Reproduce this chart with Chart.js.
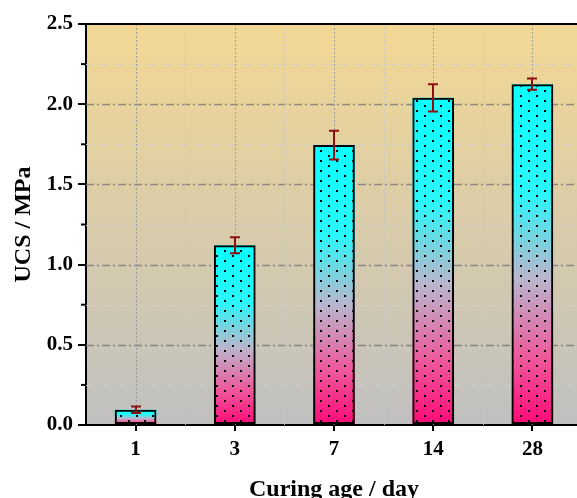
<!DOCTYPE html>
<html>
<head>
<meta charset="utf-8">
<script src="https://cdn.jsdelivr.net/npm/chart.js@4"></script>
<style>
    html, body { margin: 0; padding: 0; overflow: hidden; background: #fff; }
    #wrap { position: relative; width: 584px; height: 510px; }
</style>
</head>
<body>
<div id="wrap"><canvas id="ucsChart"></canvas></div>
<script>
const curingAges = ['1', '3', '7', '14', '28'];
const ucsMean = [0.095, 1.12, 1.745, 2.04, 2.125];
const ucsError = [0.02, 0.05, 0.09, 0.085, 0.035];
const yMajorTicks = [0, 0.5, 1.0, 1.5, 2.0, 2.5];

const serif = 'Liberation Serif';

function isMajor(value) {
    return yMajorTicks.some(t => Math.abs(t - value) < 1e-6);
}

function makeDotPattern() {
    const c = document.createElement('canvas');
    c.width = 16;
    c.height = 10;
    const g = c.getContext('2d');
    g.fillStyle = '#000';
    g.fillRect(0, 0, 2, 2);
    g.fillRect(8, 5, 2, 2);
    return g.createPattern(c, 'repeat');
}

function barGradient(context) {
    const chart = context.chart;
    if (!chart.chartArea) return '#00ffff';
    const y = chart.scales.y;
    const top = y.getPixelForValue(ucsMean[context.dataIndex]);
    const bottom = y.getPixelForValue(0);
    const g = chart.ctx.createLinearGradient(0, top, 0, bottom);
    g.addColorStop(0, '#0affff');
    g.addColorStop(0.32, '#2af6f8');
    g.addColorStop(0.57, '#b9b6cc');
    g.addColorStop(0.8, '#ee5a9c');
    g.addColorStop(1, '#ff0a78');
    return g;
}

const backgroundPlugin = {
    id: 'plotBackground',
    beforeDraw(chart) {
        const { ctx, chartArea: a } = chart;
        const g = ctx.createLinearGradient(0, a.top, 0, a.bottom);
        g.addColorStop(0, '#f3d894');
        g.addColorStop(1, '#c0c0c0');
        ctx.save();
        ctx.fillStyle = g;
        ctx.fillRect(a.left, a.top, a.right - a.left, a.bottom - a.top);
        ctx.restore();
    }
};

const gridPlugin = {
    id: 'customGrid',
    beforeDatasetsDraw(chart) {
        const { ctx, chartArea: a, scales } = chart;
        ctx.save();
        // horizontal dash-dot lines
        scales.y.ticks.forEach(t => {
            if (t.value <= 0 || t.value >= 2.5) return;
            const py = Math.round(scales.y.getPixelForValue(t.value)) + 0.5;
            const major = isMajor(t.value);
            ctx.strokeStyle = major ? 'rgba(125,125,125,0.85)' : 'rgba(205,205,205,0.9)';
            ctx.lineWidth = major ? 1.3 : 1;
            ctx.setLineDash([8, 3, 2, 3]);
            ctx.beginPath();
            ctx.moveTo(a.left, py);
            ctx.lineTo(a.right, py);
            ctx.stroke();
        });
        // vertical dotted lines at categories and between them
        ctx.setLineDash([2, 2]);
        ctx.lineWidth = 1;
        curingAges.forEach((c, i) => {
            const pc = Math.round(scales.x.getPixelForValue(i)) + 0.5;
            ctx.strokeStyle = 'rgba(150,150,150,0.9)';
            ctx.beginPath();
            ctx.moveTo(pc, a.top);
            ctx.lineTo(pc, a.bottom);
            ctx.stroke();
            const pb = Math.round(scales.x.getPixelForValue(i + 0.5)) + 0.5;
            ctx.strokeStyle = 'rgba(200,200,200,0.9)';
            ctx.beginPath();
            ctx.moveTo(pb, a.top);
            ctx.lineTo(pb, a.bottom);
            ctx.stroke();
        });
        ctx.restore();
    },
    afterDatasetsDraw(chart) {
        const { ctx, chartArea: a, scales } = chart;
        const meta = chart.getDatasetMeta(0);
        ctx.save();
        // error bars
        ctx.strokeStyle = '#8e0f0f';
        ctx.lineWidth = 2;
        meta.data.forEach((bar, i) => {
            const px = Math.round(bar.x);
            const hi = scales.y.getPixelForValue(ucsMean[i] + ucsError[i]);
            const lo = scales.y.getPixelForValue(ucsMean[i] - ucsError[i]);
            ctx.beginPath();
            ctx.moveTo(px, hi);
            ctx.lineTo(px, lo);
            ctx.moveTo(px - 5, hi);
            ctx.lineTo(px + 5, hi);
            ctx.moveTo(px - 5, lo);
            ctx.lineTo(px + 5, lo);
            ctx.stroke();
        });
        // top frame line
        ctx.strokeStyle = '#000';
        ctx.lineWidth = 2;
        ctx.beginPath();
        ctx.moveTo(a.left - 1, a.top);
        ctx.lineTo(a.right, a.top);
        ctx.stroke();
        // minor ticks on y
        scales.y.ticks.forEach(t => {
            if (isMajor(t.value)) return;
            const py = scales.y.getPixelForValue(t.value);
            ctx.beginPath();
            ctx.moveTo(a.left - 5, py);
            ctx.lineTo(a.left, py);
            ctx.stroke();
        });
        ctx.restore();
    }
};

Chart.defaults.color = '#000';
Chart.defaults.font.family = serif;

const ctx = document.getElementById('ucsChart').getContext('2d');
new Chart(ctx, {
    type: 'bar',
    data: {
        labels: curingAges,
        datasets: [{
            label: 'UCS dots',
            data: ucsMean,
            backgroundColor: makeDotPattern(),
            borderColor: '#000',
            borderWidth: 2,
            borderSkipped: false,
            grouped: false,
            order: 1,
            barPercentage: 0.42,
            categoryPercentage: 1.0
        }, {
            label: 'UCS',
            data: ucsMean,
            backgroundColor: barGradient,
            borderWidth: 0,
            grouped: false,
            order: 2,
            barPercentage: 0.42,
            categoryPercentage: 1.0
        }]
    },
    options: {
        responsive: true,
        maintainAspectRatio: false,
        animation: false,
        devicePixelRatio: 1,
        layout: {
            padding: { top: 24, right: 2, left: 0, bottom: 0 }
        },
        plugins: {
            legend: { display: false },
            tooltip: { enabled: false }
        },
        scales: {
            x: {
                offset: true,
                grid: {
                    offset: false,
                    drawOnChartArea: false,
                    drawTicks: true,
                    tickLength: 6,
                    color: '#000',
                    lineWidth: 2
                },
                border: { color: '#000', width: 2 },
                ticks: {
                    font: { size: 21, weight: 'bold', family: serif },
                    padding: 6,
                    maxRotation: 0
                },
                title: {
                    display: true,
                    text: 'Curing age / day',
                    font: { size: 24, weight: 'bold', family: serif },
                    padding: { top: 0, bottom: 6 }
                },
                afterFit(scale) { scale.height = 85; }
            },
            y: {
                min: 0,
                max: 2.5,
                grid: {
                    drawOnChartArea: false,
                    drawTicks: true,
                    tickLength: 8,
                    tickColor: c => (isMajor(c.tick.value) ? '#000' : 'rgba(0,0,0,0)'),
                    lineWidth: 2
                },
                border: { color: '#000', width: 2 },
                ticks: {
                    stepSize: 0.25,
                    font: { size: 21, weight: 'bold', family: serif },
                    padding: 5,
                    callback: v => (isMajor(v) ? v.toFixed(1) : '')
                },
                title: {
                    display: true,
                    text: 'UCS / MPa',
                    font: { size: 24, weight: 'bold', family: serif },
                    padding: { top: 9, bottom: 0 }
                },
                afterFit(scale) { scale.width = 86; }
            }
        }
    },
    plugins: [backgroundPlugin, gridPlugin]
});
</script>
</body>
</html>
